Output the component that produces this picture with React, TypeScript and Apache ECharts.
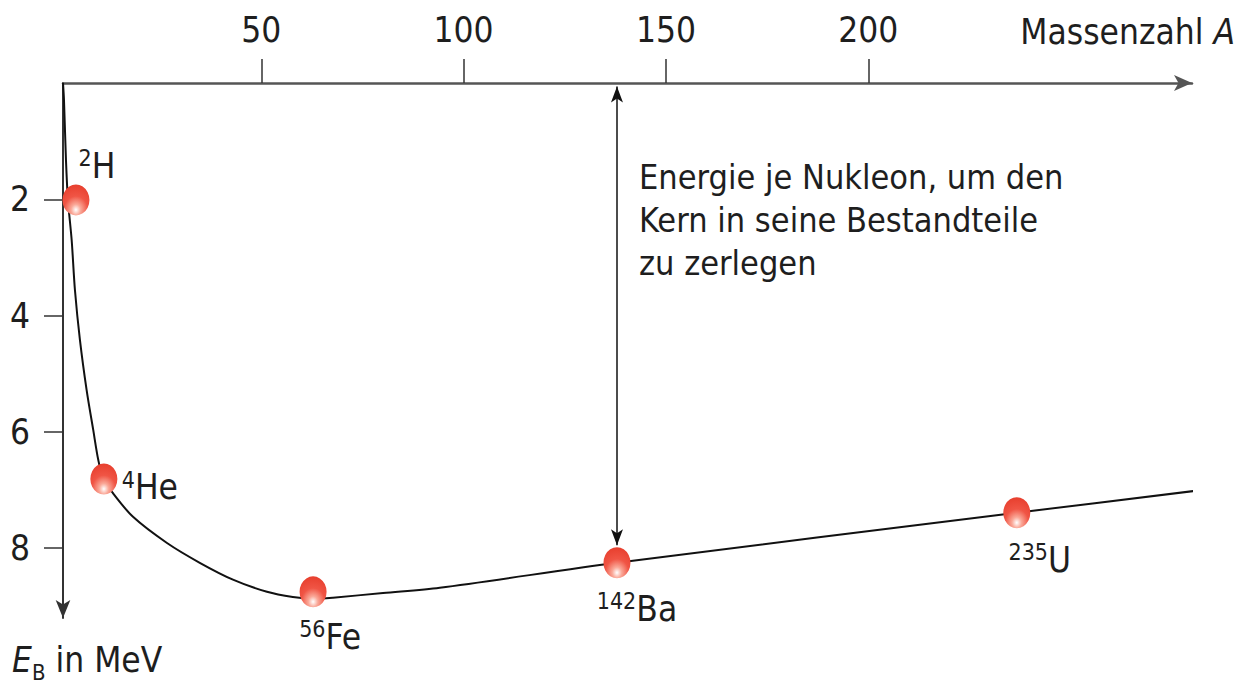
import React, { useEffect, useRef } from "react";
import * as echarts from "echarts";

// Curve of binding energy per nucleon (schematic)
const curveA = [1.0, 1.24, 1.73, 2.22, 3.14, 3.95, 5.19, 6.84, 8.48, 9.71, 10.9, 13.3, 18.3, 26.7, 34.8, 43.0, 51.4, 57.8, 62.8, 67.7, 80.1, 94.1, 137.9, 236.7, 281.2];
const curveE = [0.0, 0.29, 1.32, 2.01, 2.7, 3.56, 4.42, 5.28, 5.97, 6.48, 6.79, 7.05, 7.46, 7.91, 8.25, 8.54, 8.75, 8.84, 8.87, 8.85, 8.77, 8.68, 8.25, 7.39, 7.01];

// Marked nuclei
const nucleiMass = ["2", "4", "56", "142", "235"];
const nucleiSym = ["H", "He", "Fe", "Ba", "U"];
const nucleiA = [4.2, 11.1, 62.8, 137.9, 236.7];
const nucleiE = [2.01, 6.81, 8.75, 8.25, 7.39];

const xTicks = [50, 100, 150, 200];
const yTicks = [2, 4, 6, 8];

const FONT = "'Liberation Sans Narrow', 'DejaVu Sans Condensed', 'Roboto', sans-serif";
const TXT = "#1e1e1e";

export default function App() {
  const ref = useRef<HTMLDivElement>(null);
  useEffect(() => {
    if (!ref.current) return;
    const chart = echarts.init(ref.current, null, { renderer: "svg" });

    const labelOffsets: [number, number][] = [
      [21, -34],
      [46, 8],
      [17, 45],
      [20, 46],
      [23, 47],
    ];

    const dotColor = new echarts.graphic.RadialGradient(0.5, 0.82, 0.8, [
      { offset: 0, color: "#ffffff" },
      { offset: 0.22, color: "#faa898" },
      { offset: 0.55, color: "#f05545" },
      { offset: 1, color: "#e8402f" },
    ]);

    const arrowTop = 0.06;
    const arrowBottom = nucleiE[3] - 0.3;

    chart.setOption({
      animation: false,
      grid: { left: 63, top: 83, right: 58, bottom: 65, containLabel: false },
      xAxis: {
        type: "value",
        position: "top",
        min: 1,
        max: 280,
        axisLine: {
          show: true,
          lineStyle: { color: "#555", width: 2.5 },
          symbol: ["none", "arrow"],
          symbolSize: [12, 18],
        },
        axisTick: { show: true, inside: false, length: 24, customValues: xTicks, lineStyle: { color: "#333", width: 1.5 } },
        axisLabel: {
          customValues: xTicks,
          margin: 36,
          fontSize: 35,
          fontFamily: FONT,
          color: TXT,
        },
        splitLine: { show: false },
      },
      yAxis: {
        type: "value",
        inverse: true,
        min: 0,
        max: 9.2,
        axisLine: {
          show: true,
          lineStyle: { color: "#333", width: 2 },
          symbol: ["arrow", "none"],
          symbolSize: [11, 18],
        },
        axisTick: { show: true, length: 19, customValues: yTicks, lineStyle: { color: "#333", width: 1.5 } },
        axisLabel: {
          customValues: yTicks,
          margin: 33,
          fontSize: 35,
          fontFamily: FONT,
          color: TXT,
        },
        splitLine: { show: false },
      },
      series: [
        {
          type: "line",
          data: curveA.map((a, i) => [a, curveE[i]]),
          smooth: 0.3,
          showSymbol: false,
          clip: false,
          lineStyle: { color: "#111", width: 2 },
          z: 2,
          markLine: {
            silent: true,
            symbol: ["arrow", "arrow"],
            symbolSize: [9, 16],
            label: { show: false },
            lineStyle: { color: "#111", width: 1.5, type: "solid" },
            data: [[{ coord: [nucleiA[3], arrowTop] }, { coord: [nucleiA[3], arrowBottom] }]],
          },
        },
        {
          type: "scatter",
          symbol: "circle",
          symbolSize: [27, 31],
          z: 3,
          itemStyle: { color: dotColor, opacity: 1 },
          data: nucleiA.map((a, i) => ({
            value: [a, nucleiE[i]],
            label: {
              show: true,
              position: "inside",
              offset: labelOffsets[i],
              formatter: `{s|${nucleiMass[i]}}{n|${nucleiSym[i]}}`,
              rich: {
                s: { fontSize: 23, fontFamily: FONT, color: TXT, verticalAlign: "top", lineHeight: 34 },
                n: { fontSize: 35, fontFamily: FONT, color: TXT, lineHeight: 38 },
              },
            },
          })),
        },
      ],
      graphic: [
        {
          type: "text",
          right: 15,
          top: 14,
          style: {
            text: "{t|Massenzahl }{i|A}",
            rich: {
              t: { fontSize: 35, fontFamily: FONT, fill: TXT },
              i: { fontSize: 35, fontFamily: FONT, fill: TXT, fontStyle: "italic" },
            },
          },
        },
        {
          type: "text",
          left: 12,
          top: 642,
          style: {
            text: "{e|E}{b|B}{t| in MeV}",
            rich: {
              e: { fontSize: 35, fontFamily: FONT, fill: TXT, fontStyle: "italic", lineHeight: 38, verticalAlign: "top" },
              b: { fontSize: 22, fontFamily: FONT, fill: TXT, verticalAlign: "middle", lineHeight: 60 },
              t: { fontSize: 35, fontFamily: FONT, fill: TXT, lineHeight: 38, verticalAlign: "top" },
            },
          },
        },
        {
          type: "text",
          left: 639,
          top: 155,
          style: {
            text: "Energie je Nukleon, um den\nKern in seine Bestandteile\nzu zerlegen",
            fontSize: 34,
            lineHeight: 43,
            fontFamily: FONT,
            fill: TXT,
          },
        },
      ],
    });
    return () => chart.dispose();
  }, []);
  return (
    <div
      ref={ref}
      style={{ position: "fixed", left: 0, top: 0, width: 1250, height: 683, background: "#fff" }}
    />
  );
}
